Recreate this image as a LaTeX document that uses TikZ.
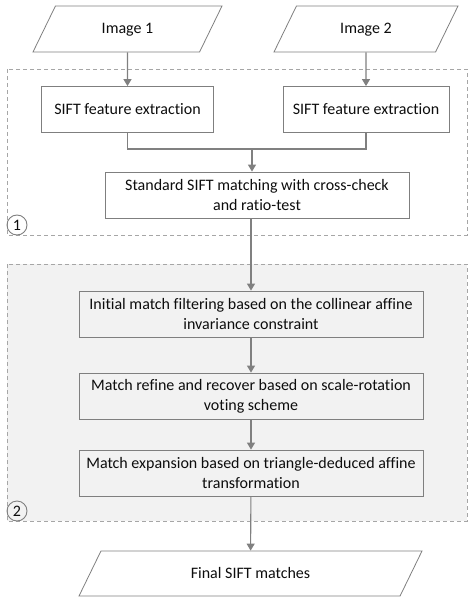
\documentclass[tikz,border=0pt]{standalone}
\usepackage{fontspec}
\setmainfont{Carlito}[Ligatures=NoCommon]
\usetikzlibrary{shapes.geometric,arrows.meta}
\definecolor{boxline}{HTML}{7F7F7F}
\definecolor{linegray}{HTML}{808080}
\definecolor{dashgray}{HTML}{A6A6A6}
\definecolor{groupfill}{HTML}{F2F2F2}
\definecolor{textgray}{HTML}{0D0D0D}
\begin{document}
\begin{tikzpicture}[x=1pt,y=1pt]
\tikzstyle{every node}+=[inner sep=0pt, text=textgray, font=\fontsize{16}{20}\selectfont]
\tikzstyle{procbox}=[draw=boxline, line width=0.8pt, rectangle, minimum height=46pt, align=center]
\tikzstyle{iobox}=[draw=boxline, line width=0.8pt, trapezium, trapezium left angle=64, trapezium right angle=116, trapezium stretches body, text height=12pt, text depth=3pt, inner ysep=15.5pt]
\tikzstyle{flow}=[draw=linegray, line width=1.1pt, -{Triangle[width=8pt,length=7pt]}]
\tikzstyle{groupframe}=[draw=dashgray, line width=0.7pt, dash pattern=on 4pt off 3pt]
\tikzstyle{groupmark}=[draw=boxline, line width=0.9pt, circle, minimum size=20pt]
\useasboundingbox (0,0) rectangle (474,-604);
\draw [groupframe] (7,-69) rectangle (467,-235);
\draw [groupframe, fill=groupfill] (7,-264) rectangle (467,-521);
\node [groupmark] (mark1) at (17,-225) {1};
\node [groupmark] (mark2) at (17,-511) {2};
\node [iobox, minimum width=189pt] (img1) at (127.5,-29) {Image 1};
\node [iobox, minimum width=184pt] (img2) at (366,-29) {Image 2};
\node [procbox, minimum width=172pt] (sift1) at (127.5,-109.5) {SIFT feature extraction};
\node [procbox, minimum width=166pt] (sift2) at (366,-109.5) {SIFT feature extraction};
\node [procbox, minimum width=304pt] (std) at (257,-195) {Standard SIFT matching with cross-check\\and ratio-test};
\node [procbox, minimum width=344pt] (filter) at (251,-314) {Initial match filtering based on the collinear affine\\invariance constraint};
\node [procbox, minimum width=344pt] (refine) at (251,-396) {Match refine and recover based on scale-rotation\\voting scheme};
\node [procbox, minimum width=344pt] (expand) at (251,-473) {Match expansion based on triangle-deduced affine\\transformation};
\node [iobox, minimum width=343pt, inner ysep=15pt] (final) at (250.5,-573.5) {Final SIFT matches};
\coordinate (merge) at (252,-149);
\draw [flow] (img1) -- (sift1);
\draw [flow] (img2) -- (sift2);
\draw [draw=linegray, line width=1.1pt] (sift1.south) -- (sift1.south |- merge) -- (sift2.south |- merge) -- (sift2.south);
\draw [flow] (merge) -- (merge |- std.north);
\draw [flow] (std.south -| filter.north) -- (filter.north);
\draw [flow] (filter) -- (refine);
\draw [flow] (refine) -- (expand);
\draw [flow] (expand) -- (final);
\end{tikzpicture}
\end{document}
